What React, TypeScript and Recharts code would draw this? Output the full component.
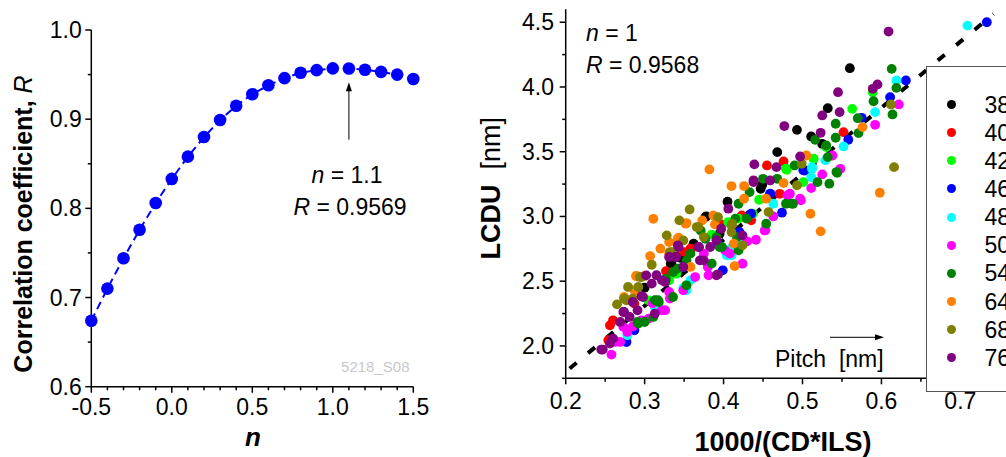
import React from 'react';
import {
  ComposedChart,
  Line,
  ScatterChart,
  Scatter,
  XAxis,
  YAxis,
  ReferenceLine,
  Legend,
} from 'recharts';

const FONT = '"Liberation Sans", Arial, sans-serif';

// left panel: correlation coefficient R against exponent n
const nValues = [-0.5, -0.4, -0.3, -0.2, -0.1, 0.0, 0.1, 0.2, 0.3, 0.4, 0.5, 0.6, 0.7, 0.8, 0.9, 1.0, 1.1, 1.2, 1.3, 1.4, 1.5];
const rValues = [0.674, 0.710, 0.744, 0.776, 0.806, 0.833, 0.858, 0.880, 0.899, 0.915, 0.928, 0.938, 0.946, 0.952, 0.955, 0.957, 0.9569, 0.9555, 0.953, 0.950, 0.945];
const nTicks = [-0.5, -0.4, -0.3, -0.2, -0.1, 0, 0.1, 0.2, 0.3, 0.4, 0.5, 0.6, 0.7, 0.8, 0.9, 1.0, 1.1, 1.2, 1.3, 1.4, 1.5];
const rTicks = [0.6, 0.65, 0.7, 0.75, 0.8, 0.85, 0.9, 0.95, 1.0];

// right panel: LCDU against 1000/(CD*ILS), one series per pitch
const pitchNames = ['38', '40', '42', '46', '48', '50', '54', '64', '68', '76'];
const pitchColors = ['#000000', '#ff0000', '#00ff00', '#0000ff', '#00ffff', '#ff00ff', '#008000', '#ff8000', '#808000', '#800080'];

const p38 = [[0.560, 4.145], [0.532, 3.836], [0.493, 3.669], [0.511, 3.618], [0.468, 3.497], [0.405, 3.114], [0.449, 3.245], [0.447, 3.214], [0.378, 3.0], [0.362, 2.782], [0.333, 2.635], [0.525, 3.56], [0.432, 3.008], [0.395, 2.867], [0.300, 2.45], [0.345, 2.68], [0.334, 2.636], [0.377, 2.995], [0.362, 2.790]];
const p40 = [[0.455, 3.394], [0.476, 3.425], [0.552, 3.651], [0.471, 3.175], [0.423, 3.008], [0.358, 2.751], [0.351, 2.725], [0.256, 2.159], [0.260, 2.198], [0.254, 2.044], [0.397, 2.939], [0.327, 2.578], [0.287, 2.327], [0.435, 2.970], [0.340, 2.70], [0.358, 2.738]];
const p42 = [[0.563, 3.831], [0.589, 3.96], [0.514, 3.445], [0.480, 3.36], [0.501, 3.265], [0.406, 2.957], [0.437, 3.021], [0.445, 3.129], [0.419, 2.983], [0.340, 2.558], [0.331, 2.507], [0.353, 2.468], [0.305, 2.352], [0.530, 3.536], [0.385, 2.86], [0.479, 3.369], [0.514, 3.446]];
const p46 = [[0.7335, 4.5], [0.631, 4.05], [0.611, 3.921], [0.575, 3.762], [0.558, 3.592], [0.503, 3.355], [0.474, 3.029], [0.459, 3.175], [0.435, 3.021], [0.399, 2.584], [0.393, 2.79], [0.277, 2.03], [0.287, 2.121], [0.349, 2.61], [0.313, 2.352], [0.420, 2.88], [0.501, 3.356], [0.459, 3.176]];
const p48 = [[0.709, 4.474], [0.619, 4.05], [0.592, 3.806], [0.552, 3.541], [0.529, 3.433], [0.512, 3.368], [0.511, 3.304], [0.404, 2.70], [0.411, 2.764], [0.353, 2.43], [0.349, 2.448], [0.278, 2.082], [0.313, 2.301], [0.419, 2.815], [0.463, 3.098], [0.410, 2.70], [0.358, 2.507], [0.512, 3.381]];
const p50 = [[0.622, 3.865], [0.592, 3.708], [0.548, 3.368], [0.525, 3.325], [0.538, 3.471], [0.511, 3.219], [0.498, 3.124], [0.481, 3.163], [0.463, 3.0], [0.452, 2.892], [0.441, 2.82], [0.430, 2.808], [0.424, 2.635], [0.402, 2.738], [0.380, 2.61], [0.364, 2.532], [0.349, 2.43], [0.322, 2.275], [0.278, 2.108], [0.258, 1.933], [0.263, 2.031], [0.269, 2.031], [0.296, 2.198], [0.331, 2.417], [0.375, 2.713], [0.310, 2.33], [0.285, 2.15], [0.326, 2.276], [0.332, 2.366], [0.381, 2.546], [0.305, 2.211], [0.273, 2.147], [0.408, 2.713], [0.497, 3.137], [0.484, 3.176], [0.453, 2.893]];
const p54 = [[0.613, 4.14], [0.619, 3.993], [0.590, 3.89], [0.614, 3.788], [0.570, 3.759], [0.571, 3.644], [0.542, 3.716], [0.542, 3.608], [0.544, 3.337], [0.534, 3.253], [0.519, 3.265], [0.516, 3.592], [0.530, 3.548], [0.532, 3.458], [0.490, 3.394], [0.488, 3.098], [0.468, 3.291], [0.450, 3.291], [0.433, 3.188], [0.419, 3.098], [0.454, 2.944], [0.419, 2.738], [0.395, 2.764], [0.377, 2.828], [0.371, 2.892], [0.358, 2.713], [0.353, 2.661], [0.342, 2.597], [0.327, 2.519], [0.313, 2.352], [0.311, 2.224], [0.291, 2.185], [0.300, 2.185], [0.318, 2.339], [0.336, 2.378], [0.479, 3.098], [0.336, 2.571], [0.353, 2.468], [0.317, 2.353], [0.292, 2.173], [0.385, 2.636], [0.398, 2.764], [0.417, 2.841], [0.486, 3.099], [0.429, 2.983], [0.415, 2.983], [0.391, 2.841], [0.543, 3.343]];
const p64 = [[0.598, 3.183], [0.523, 2.885], [0.510, 3.021], [0.576, 3.69], [0.505, 3.471], [0.382, 3.363], [0.410, 3.235], [0.426, 3.235], [0.426, 3.137], [0.454, 3.137], [0.476, 3.258], [0.311, 2.982], [0.353, 2.949], [0.373, 2.97], [0.387, 3.008], [0.389, 2.939], [0.331, 2.802], [0.320, 2.751], [0.307, 2.694], [0.331, 2.712], [0.289, 2.54], [0.300, 2.54], [0.414, 2.617], [0.274, 2.378], [0.287, 2.43], [0.342, 2.828], [0.358, 2.61], [0.413, 2.79], [0.343, 2.836], [0.290, 2.538], [0.288, 2.430], [0.352, 2.944]];
const p68 = [[0.616, 3.381], [0.612, 3.865], [0.357, 3.054], [0.328, 2.854], [0.309, 2.627], [0.296, 2.532], [0.279, 2.455], [0.265, 2.321], [0.274, 2.365], [0.285, 2.365], [0.368, 2.918], [0.375, 2.841], [0.411, 2.944], [0.424, 2.777], [0.457, 3.034], [0.493, 3.24], [0.499, 3.407], [0.349, 2.815], [0.335, 2.725], [0.393, 2.995], [0.344, 2.97], [0.366, 2.918], [0.294, 2.533], [0.292, 2.455], [0.277, 2.353], [0.410, 2.880], [0.332, 2.725], [0.410, 2.931]];
const p76 = [[0.609, 4.428], [0.545, 3.96], [0.595, 4.019], [0.589, 3.986], [0.525, 3.78], [0.547, 3.806], [0.477, 3.698], [0.523, 3.646], [0.497, 3.463], [0.467, 3.381], [0.439, 3.402], [0.438, 3.265], [0.459, 3.278], [0.406, 3.06], [0.397, 2.905], [0.424, 2.854], [0.393, 2.553], [0.369, 2.764], [0.342, 2.777], [0.331, 2.687], [0.340, 2.687], [0.322, 2.507], [0.309, 2.481], [0.302, 2.545], [0.296, 2.384], [0.285, 2.34], [0.291, 2.275], [0.274, 2.262], [0.269, 2.185], [0.256, 2.018], [0.245, 1.972], [0.247, 1.972], [0.260, 2.057], [0.313, 2.25], [0.349, 2.61], [0.375, 2.661], [0.343, 2.764], [0.368, 2.764], [0.391, 2.816], [0.339, 2.687], [0.370, 2.661], [0.315, 2.546], [0.326, 2.494], [0.298, 2.378], [0.273, 2.262], [0.281, 2.224], [0.391, 2.546], [0.438, 3.279], [0.383, 2.764]];
const pitchSeries = [p38, p40, p42, p46, p48, p50, p54, p64, p68, p76];

// fitted line LCDU = a * x + b, drawn from xFit[0] to xFit[1]
const fitSlope = 5.1;
const fitIntercept = 0.78;
const xFit = [0.205, 0.742];

const xTicks = [0.2, 0.25, 0.3, 0.35, 0.4, 0.45, 0.5, 0.55, 0.6, 0.65, 0.7, 0.75];
const yTicks = [1.75, 2.0, 2.25, 2.5, 2.75, 3.0, 3.25, 3.5, 3.75, 4.0, 4.25, 4.5];

const onStep = (v: number, step: number) => Math.abs(v / step - Math.round(v / step)) < 1e-6;

const makeTick = (side: 'x' | 'y', major: (v: number) => boolean, gap: number) => (props: any) => {
  const { x, y, payload } = props;
  const v = payload.value as number;
  const isMajor = major(v);
  const len = isMajor ? 6 : 3.5;
  const label = v.toFixed(1);
  if (side === 'x') {
    return (
      <g>
        <line x1={x} y1={y} x2={x} y2={y + len} stroke="#000" strokeWidth={1.5} />
        {isMajor && (
          <text x={x} y={y + gap} textAnchor="middle" dominantBaseline="central" fontSize={23} fontFamily={FONT} fill="#000">
            {label}
          </text>
        )}
      </g>
    );
  }
  return (
    <g>
      <line x1={x} y1={y} x2={x - len} y2={y} stroke="#000" strokeWidth={1.5} />
      {isMajor && (
        <text x={x - gap} y={y} textAnchor="end" dominantBaseline="central" fontSize={23} fontFamily={FONT} fill="#000">
          {label}
        </text>
      )}
    </g>
  );
};

const ArrowUp = (props: any) => {
  const { x1, y1, x2, y2 } = props;
  const top = Math.min(y1, y2);
  const bottom = Math.max(y1, y2);
  return (
    <g>
      <line x1={x1} y1={bottom} x2={x2} y2={top + 6} stroke="#000" strokeWidth={1} />
      <polygon points={`${x1},${top} ${x1 - 3},${top + 9} ${x1 + 3},${top + 9}`} fill="#000" />
    </g>
  );
};

const PitchLegend = (props: any) => {
  const { payload } = props;
  return (
    <div
      style={{
        width: 130,
        height: 326,
        border: '1.5px solid #555',
        background: '#fff',
        boxSizing: 'border-box',
        position: 'relative',
        fontFamily: FONT,
      }}
    >
      {(payload || []).map((e: any, i: number) => (
        <React.Fragment key={i}>
          <span
            style={{
              position: 'absolute',
              left: 20.6,
              top: 37.5 + i * 28.15 - 4.5,
              width: 9,
              height: 9,
              borderRadius: '50%',
              background: e.color,
            }}
          />
          <span
            style={{
              position: 'absolute',
              left: 57.8,
              top: 37.5 + i * 28.15 - 13,
              height: 26,
              lineHeight: '26px',
              fontSize: 23,
              color: '#000',
              whiteSpace: 'nowrap',
            }}
          >
            {e.value}
          </span>
        </React.Fragment>
      ))}
    </div>
  );
};

const Dot = (props: any) => <circle cx={props.cx} cy={props.cy} r={4.9} fill={props.fill} />;

export default function App() {
  const rRows = nValues.map((n, i) => ({ n, R: rValues[i] }));
  const fitRows = xFit.map((x) => ({ x, y: fitSlope * x + fitIntercept }));

  return (
    <div
      style={{
        position: 'absolute',
        left: 0,
        top: 0,
        width: 1006,
        height: 457,
        overflow: 'hidden',
        background: '#fff',
        fontFamily: FONT,
      }}
    >
      <div style={{ position: 'absolute', left: 0, top: 0 }}>
        <ComposedChart width={440} height={457} data={rRows} margin={{ top: 30, right: 26.7, bottom: 0, left: 0 }}>
          <XAxis
            type="number"
            dataKey="n"
            domain={[-0.5, 1.5]}
            ticks={nTicks}
            interval={0}
            height={70.3}
            tickSize={0}
            tickMargin={0}
            axisLine={{ stroke: '#000', strokeWidth: 1.5 }}
            tick={makeTick('x', (v) => onStep(v, 0.5), 19.8)}
          />
          <YAxis
            type="number"
            domain={[0.6, 1.0]}
            ticks={rTicks}
            interval={0}
            width={91.3}
            tickSize={0}
            tickMargin={0}
            axisLine={{ stroke: '#000', strokeWidth: 1.5 }}
            tick={makeTick('y', (v) => onStep(v, 0.1), 9.6)}
          />
          <ReferenceLine
            segment={[{ x: 1.1, y: 0.877 }, { x: 1.1, y: 0.9415 }]}
            shape={ArrowUp}
            ifOverflow="visible"
          />
          <Line
            type="linear"
            dataKey="R"
            stroke="#0000ff"
            strokeWidth={2}
            strokeDasharray="8 5"
            dot={{ r: 6.3, fill: '#0000ff', stroke: 'none' }}
            isAnimationActive={false}
          />
        </ComposedChart>
      </div>

      <div style={{ position: 'absolute', left: 460, top: 0 }}>
        <ScatterChart width={600} height={457} margin={{ top: 9.3, right: 20.7, bottom: 0, left: 0 }}>
          <XAxis
            type="number"
            dataKey="x"
            domain={[0.2, 0.8]}
            ticks={xTicks}
            interval={0}
            height={78.7}
            tickSize={0}
            tickMargin={0}
            axisLine={{ stroke: '#000', strokeWidth: 1.5 }}
            tick={makeTick('x', (v) => onStep(v, 0.1), 22.7)}
          />
          <YAxis
            type="number"
            dataKey="y"
            domain={[1.75, 4.6]}
            ticks={yTicks}
            interval={0}
            width={105.7}
            tickSize={0}
            tickMargin={0}
            axisLine={{ stroke: '#000', strokeWidth: 1.5 }}
            tick={makeTick('y', (v) => onStep(v, 0.5), 11.7)}
          />
          {pitchSeries.map((pts, i) => (
            <Scatter
              key={pitchNames[i]}
              name={pitchNames[i]}
              data={pts.map(([x, y]) => ({ x, y }))}
              fill={pitchColors[i]}
              shape={Dot}
              isAnimationActive={false}
            />
          ))}
          <ReferenceLine
            segment={[fitRows[0], fitRows[1]]}
            stroke="#000"
            strokeWidth={4}
            strokeDasharray="9 15"
            ifOverflow="visible"
          />
          <Legend
            layout="vertical"
            align="center"
            verticalAlign="middle"
            content={PitchLegend}
            wrapperStyle={{ left: 465.7, top: 66, width: 130, height: 326 }}
          />
        </ScatterChart>
      </div>

      <svg width={1006} height={457} style={{ position: 'absolute', left: 0, top: 0, pointerEvents: 'none' }} fontFamily={FONT}>
        {/* left panel titles and notes */}
        <text transform="translate(23.3,224) rotate(-90)" textAnchor="middle" dominantBaseline="central" fontSize={25} fontWeight="bold">
          Correlation coefficient, <tspan fontStyle="italic" fontWeight="normal">R</tspan>
        </text>
        <text x={253} y={437} textAnchor="middle" dominantBaseline="central" fontSize={26} fontWeight="bold" fontStyle="italic">
          n
        </text>
        <text x={347} y={175} textAnchor="middle" dominantBaseline="central" fontSize={23}>
          <tspan fontStyle="italic">n</tspan> = 1.1
        </text>
        <text x={350} y={206.7} textAnchor="middle" dominantBaseline="central" fontSize={23}>
          <tspan fontStyle="italic">R</tspan> = 0.9569
        </text>
        <text x={375.3} y={366.7} textAnchor="middle" dominantBaseline="central" fontSize={15} fill="#c8c8c8">
          5218_S08
        </text>

        {/* right panel titles and notes */}
        <text transform="translate(491.3,188.3) rotate(-90)" textAnchor="middle" dominantBaseline="central" fontSize={27} xmlSpace="preserve">
          <tspan fontWeight="bold">LCDU</tspan>{'  [nm]'}
        </text>
        <text x={783} y={442} textAnchor="middle" dominantBaseline="central" fontSize={27} fontWeight="bold">
          1000/(CD*ILS)
        </text>
        <text x={586} y={33.3} dominantBaseline="central" fontSize={23}>
          <tspan fontStyle="italic">n</tspan> = 1
        </text>
        <text x={586} y={65} dominantBaseline="central" fontSize={23}>
          <tspan fontStyle="italic">R</tspan> = 0.9568
        </text>
        <line x1={830} y1={337.3} x2={876} y2={337.3} stroke="#000" strokeWidth={1} />
        <polygon points="884,337.3 875,334.3 875,340.3" fill="#000" />
        <text x={775} y={359.3} dominantBaseline="central" fontSize={23} xmlSpace="preserve">
          {'Pitch  [nm]'}
        </text>
      </svg>
    </div>
  );
}
